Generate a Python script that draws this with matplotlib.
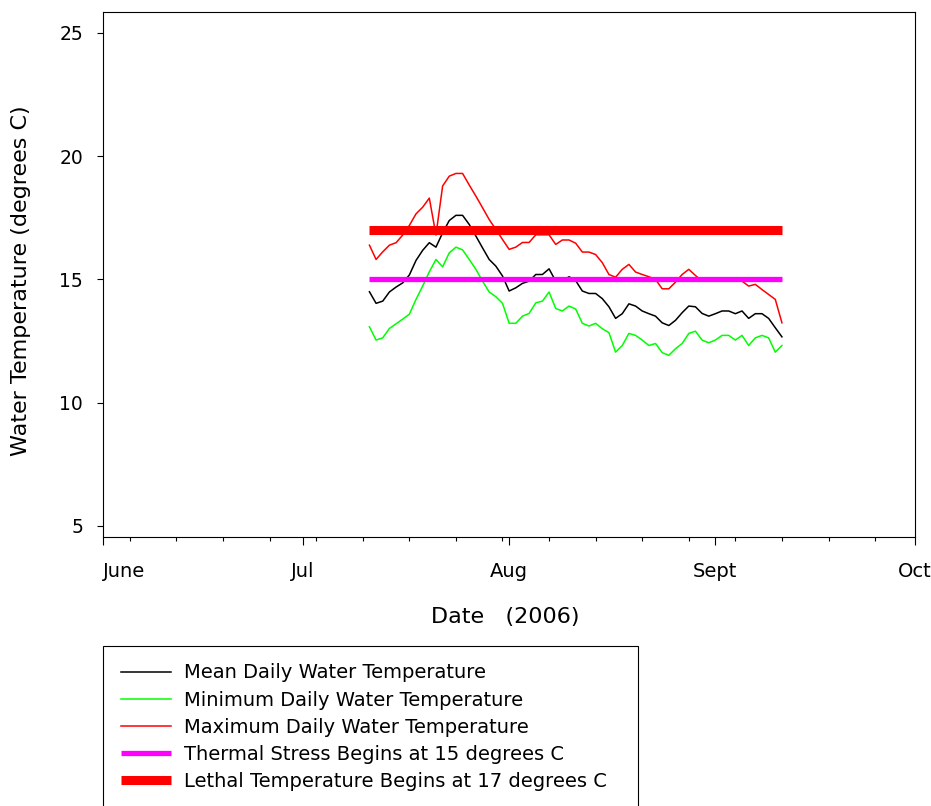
import matplotlib
matplotlib.use("Agg")
import matplotlib.pyplot as plt
import matplotlib.dates as mdates
from matplotlib.patches import Rectangle
import pandas as pd

plt.rcParams['font.family'] = ['DejaVu Sans']

# ---- data (2006) ----
start_date = "2006-07-11"
mean_temp = [14.50, 14.03, 14.12, 14.49, 14.69, 14.86, 15.18, 15.77, 16.18, 16.49,
             16.31, 16.89, 17.39, 17.60, 17.60, 17.23, 16.76, 16.28, 15.81, 15.54,
             15.14, 14.53, 14.66, 14.84, 14.93, 15.20, 15.20, 15.43, 14.93, 14.93,
             15.11, 14.95, 14.53, 14.43, 14.43, 14.22, 13.89, 13.42, 13.61, 14.01,
             13.92, 13.72, 13.61, 13.51, 13.24, 13.13, 13.34, 13.65, 13.92, 13.89,
             13.62, 13.51, 13.61, 13.72, 13.72, 13.61, 13.72, 13.42, 13.61, 13.61,
             13.42, 13.04, 12.67]
min_temp = [13.08, 12.54, 12.63, 13.01, 13.20, 13.39, 13.59, 14.19, 14.73, 15.31,
            15.81, 15.51, 16.08, 16.31, 16.20, 15.81, 15.41, 14.93, 14.49, 14.30,
            14.03, 13.22, 13.22, 13.51, 13.62, 14.05, 14.12, 14.49, 13.82, 13.72,
            13.92, 13.80, 13.22, 13.11, 13.22, 13.00, 12.84, 12.05, 12.32, 12.81,
            12.73, 12.54, 12.32, 12.40, 12.03, 11.92, 12.19, 12.40, 12.81, 12.90,
            12.54, 12.43, 12.54, 12.73, 12.73, 12.54, 12.73, 12.32, 12.63, 12.73,
            12.63, 12.05, 12.32]
max_temp = [16.39, 15.81, 16.12, 16.39, 16.49, 16.80, 17.19, 17.66, 17.93, 18.30,
            16.80, 18.79, 19.19, 19.30, 19.30, 18.83, 18.38, 17.91, 17.43, 17.03,
            16.62, 16.22, 16.31, 16.50, 16.50, 16.81, 16.81, 16.81, 16.42, 16.60,
            16.60, 16.47, 16.11, 16.11, 16.01, 15.68, 15.20, 15.09, 15.41, 15.61,
            15.30, 15.20, 15.11, 15.00, 14.62, 14.62, 14.89, 15.20, 15.41, 15.16,
            14.93, 14.95, 14.95, 14.95, 14.95, 14.95, 14.93, 14.73, 14.80, 14.59,
            14.39, 14.19, 13.24]
thermal_stress = 15
lethal_temp = 17

series_labels = ["Mean Daily Water Temperature",
                 "Minimum Daily Water Temperature",
                 "Maximum Daily Water Temperature",
                 "Thermal Stress Begins at 15 degrees C",
                 "Lethal Temperature Begins at 17 degrees C"]
month_ticks = ["2006-06-01", "2006-07-01", "2006-08-01", "2006-09-01", "2006-10-01"]
month_labels = ["June", "Jul", "Aug", "Sept", "Oct"]
y_ticks = [5, 10, 15, 20, 25]

dates = pd.date_range(start_date, periods=len(mean_temp), freq="D")

W, H = 931, 806
fig = plt.figure(figsize=(W / 100, H / 100), dpi=100)
ax = fig.add_axes([103.3 / W, (H - 537) / H, (915 - 103.3) / W, (537 - 12) / H])

l_mean, = ax.plot(dates, mean_temp, color="black", lw=1.1, zorder=3)
l_min, = ax.plot(dates, min_temp, color="#00ff00", lw=1.1, zorder=3)
l_max, = ax.plot(dates, max_temp, color="#ff0000", lw=1.1, zorder=3)
l_ts, = ax.plot([dates[0], dates[-1]], [thermal_stress] * 2, color="#ff00ff",
                lw=3.8, solid_capstyle="butt", zorder=4)
l_le, = ax.plot([dates[0], dates[-1]], [lethal_temp] * 2, color="#ff0000",
                lw=6.5, solid_capstyle="butt", zorder=4)

ax.set_xlim(pd.Timestamp("2006-06-01"), pd.Timestamp("2006-10-01"))
ax.set_ylim(4.55, 25.85)

ax.set_xticks(pd.to_datetime(month_ticks))
ax.set_xticklabels(month_labels)
ax.xaxis.set_minor_locator(mdates.WeekdayLocator(byweekday=mdates.MO))
ax.set_yticks(y_ticks)
ax.set_yticklabels([str(v) for v in y_ticks])

ax.tick_params(axis="x", which="major", direction="out", length=6, width=0.8,
               pad=12, labelsize=14)
ax.tick_params(axis="x", which="minor", direction="out", length=3, width=0.8)
ax.tick_params(axis="y", which="major", direction="out", length=4.5, width=0.8,
               pad=10, labelsize=13.5)
xt = ax.xaxis.get_majorticklabels()
xt[0].set_horizontalalignment("left")
for s in ax.spines.values():
    s.set_linewidth(0.8)

ax.set_ylabel("Water Temperature (degrees C)", fontsize=16, va="center")
ax.yaxis.set_label_coords((21 - 103.3) / (915 - 103.3), (537 - 281) / 525)
ax.set_xlabel("Date   (2006)", fontsize=16, va="center")
ax.xaxis.set_label_coords((505 - 103.3) / (915 - 103.3), (537 - 617) / 525)

# legend box
fig.patches.append(Rectangle((103.3 / W, -0.05), (638 - 103.3) / W,
                             (H - 646) / H + 0.05, transform=fig.transFigure,
                             fill=False, edgecolor="black", lw=0.8))
fig.legend([l_mean, l_min, l_max, l_ts, l_le], series_labels,
           loc="upper left", bbox_to_anchor=(103.3 / W, (H - 646) / H),
           frameon=False, fontsize=14, handlelength=2.57, handletextpad=0.67,
           borderpad=0.9, borderaxespad=0, labelspacing=0.42)

fig.savefig("out.png", dpi=100)
